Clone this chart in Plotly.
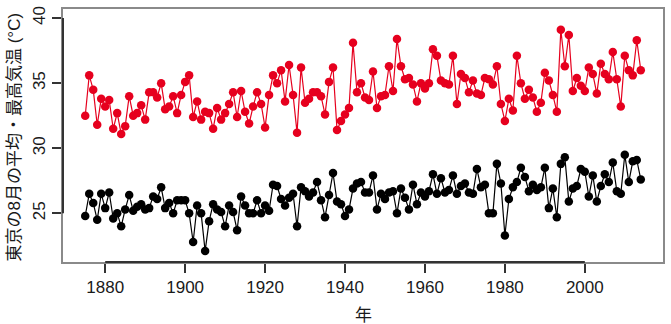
import plotly.graph_objects as go

# 東京の8月：各年の月平均気温と月最高気温（℃）
years = list(range(1875, 2015))

max_temp = [
    32.5, 35.6, 34.5, 31.8, 33.8, 33.2, 33.7, 31.5, 32.7, 31.1,
    31.7, 34.0, 32.5, 32.7, 33.3, 32.2, 34.3, 34.3, 33.9, 35.0,
    33.0, 33.2, 34.0, 32.7, 34.1, 35.1, 35.6, 32.4, 33.6, 32.2,
    32.8, 32.7, 31.5, 33.1, 32.2, 32.7, 33.4, 34.3, 32.4, 34.4,
    32.8, 31.9, 33.2, 34.3, 33.4, 31.6, 34.1, 35.6, 35.0, 36.0,
    33.6, 36.4, 34.1, 31.2, 36.2, 33.5, 33.8, 34.3, 34.3, 34.0,
    32.6, 35.1, 36.2, 31.4, 32.1, 32.6, 33.1, 38.1, 34.3, 35.0,
    33.9, 33.7, 35.9, 33.1, 34.0, 34.1, 36.3, 34.4, 38.4, 36.3,
    35.3, 35.4, 34.9, 33.6, 35.0, 34.6, 35.0, 37.6, 37.1, 35.2,
    35.0, 34.9, 37.1, 33.4, 35.7, 35.4, 34.3, 35.2, 34.2, 34.1,
    35.4, 35.3, 34.9, 36.3, 33.4, 32.1, 33.8, 32.9, 37.1, 35.0,
    33.8, 34.5, 33.9, 32.8, 33.5, 35.8, 35.2, 34.1, 32.8, 39.1,
    36.3, 38.7, 34.4, 35.4, 34.8, 34.4, 36.2, 35.7, 34.2, 36.5,
    35.7, 35.3, 37.4, 35.3, 33.2, 37.1, 36.0, 35.6, 38.3, 36.0,
]

mean_temp = [
    24.8, 26.5, 25.8, 24.5, 26.5, 25.4, 26.6, 24.6, 25.0, 24.0,
    25.3, 26.4, 25.2, 25.5, 25.7, 25.3, 25.4, 26.3, 26.1, 27.0,
    25.4, 25.8, 25.0, 26.0, 26.0, 26.0, 25.0, 22.8, 25.6, 25.0,
    22.1, 24.4, 25.7, 25.3, 25.1, 24.0, 25.6, 25.1, 23.7, 26.3,
    25.6, 25.0, 25.0, 26.0, 25.0, 25.6, 25.2, 27.2, 27.1, 26.1,
    25.6, 26.2, 26.5, 24.0, 27.0, 26.7, 26.3, 26.6, 27.4, 26.0,
    24.7, 26.4, 28.1, 25.9, 25.7, 24.8, 25.3, 26.9, 27.3, 27.4,
    26.6, 26.6, 27.9, 25.3, 26.5, 26.1, 26.6, 26.7, 25.0, 26.9,
    26.2, 25.3, 27.2, 25.7, 26.6, 26.3, 26.7, 28.0, 26.5, 27.7,
    26.6, 26.8, 27.9, 26.5, 27.1, 27.3, 26.6, 26.5, 28.4, 27.0,
    27.2, 25.0, 25.0, 28.8, 27.3, 23.3, 26.1, 27.0, 27.4, 28.5,
    27.8, 26.7, 27.2, 26.8, 27.0, 28.5, 25.4, 26.9, 24.7, 28.8,
    29.3, 25.9, 26.9, 27.1, 28.4, 28.2, 26.3, 27.9, 25.9, 27.1,
    28.0, 27.4, 28.9, 26.7, 26.5, 29.5, 27.4, 29.0, 29.1, 27.6,
]

x_ticks = [1880, 1900, 1920, 1940, 1960, 1980, 2000]
y_ticks = [25, 30, 35, 40]

x_title = "年"
y_title = "東京の8月の平均・最高気温 (°C)"

RED = "#e6001e"
BLACK = "#000000"
BOX = "#8a8a8a"
AXIS = "#333333"
FONT = "Liberation Sans, Noto Sans CJK JP, sans-serif"

fig = go.Figure()

fig.add_trace(go.Scatter(
    x=years, y=max_temp, mode="lines+markers", name="最高気温",
    line=dict(color=RED, width=1.2),
    marker=dict(color=RED, size=8.5),
))
fig.add_trace(go.Scatter(
    x=years, y=mean_temp, mode="lines+markers", name="平均気温",
    line=dict(color=BLACK, width=1.2),
    marker=dict(color=BLACK, size=8.5),
))

# axis lines spanning first to last tick, drawn over the frame
shapes = [
    dict(type="line", xref="x", yref="paper",
         x0=x_ticks[0], x1=x_ticks[-1], y0=0, y1=0,
         line=dict(color=AXIS, width=2)),
    dict(type="line", xref="paper", yref="y",
         x0=0, x1=0, y0=y_ticks[0], y1=y_ticks[-1],
         line=dict(color=AXIS, width=2)),
]

fig.update_layout(
    width=671, height=324,
    margin=dict(l=63, r=6, t=6, b=62, pad=0),
    paper_bgcolor="white", plot_bgcolor="white",
    showlegend=False,
    font=dict(family=FONT, size=17, color="#1a1a1a"),
    shapes=shapes,
    annotations=[
        dict(text=y_title, xref="paper", yref="paper", x=0, y=0.5,
             xanchor="center", yanchor="middle", xshift=-49,
             yshift=-2, textangle=-90, showarrow=False,
             font=dict(family=FONT, size=17, color="#1a1a1a")),
        dict(text=x_title, xref="paper", yref="paper", x=0.5, y=0,
             xanchor="center", yanchor="middle", yshift=-53,
             showarrow=False,
             font=dict(family=FONT, size=17, color="#1a1a1a")),
    ],
)

fig.update_xaxes(
    range=[1869.44, 2019.56],
    tickmode="array", tickvals=x_ticks,
    ticktext=[str(v) for v in x_ticks],
    ticks="outside", ticklen=9, tickwidth=1.5, tickcolor=AXIS,
    showline=True, mirror=True, linecolor=BOX, linewidth=2,
    showgrid=False, zeroline=False,
)
fig.update_yaxes(
    range=[21.26, 40.7],
    tickmode="array", tickvals=y_ticks,
    ticktext=[str(v) for v in y_ticks],
    tickangle=-90,
    ticks="outside", ticklen=9, tickwidth=1.5, tickcolor=AXIS,
    showline=True, mirror=True, linecolor=BOX, linewidth=2,
    showgrid=False, zeroline=False,
)

fig.write_html("out.html")
